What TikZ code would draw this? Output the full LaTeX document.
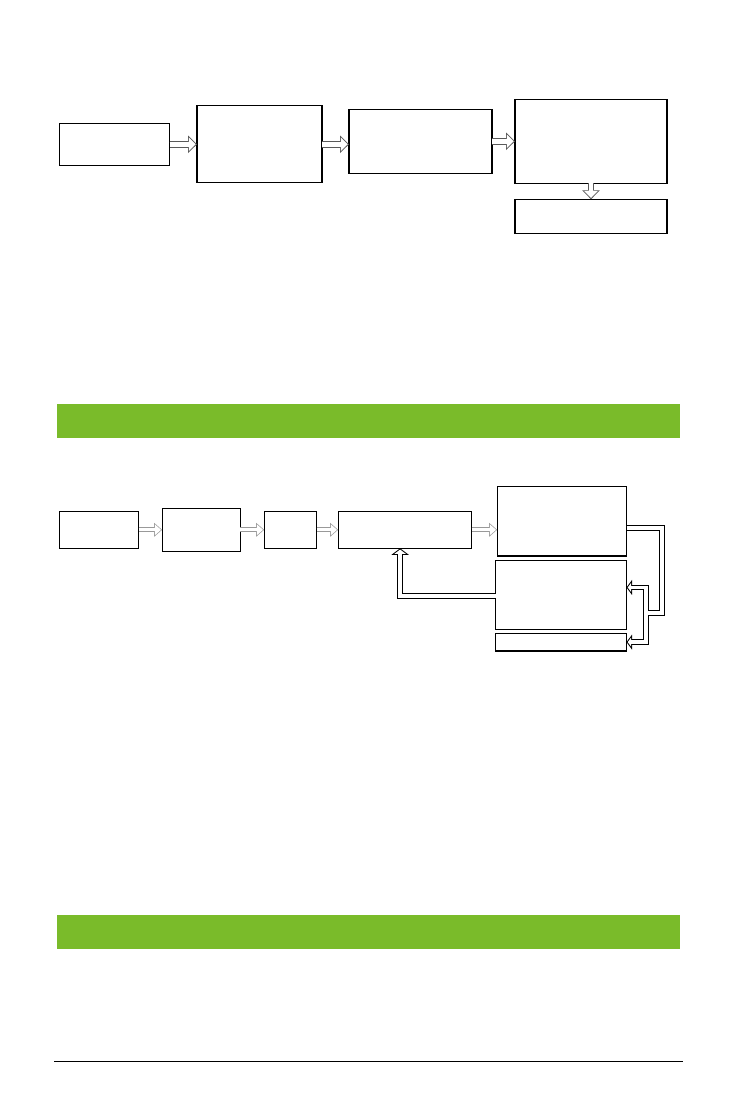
\documentclass[tikz,border=0pt]{standalone}
\usetikzlibrary{positioning, arrows.meta}
\definecolor{verdebarra}{RGB}{122,187,42}
\tikzset{blocco/.style={rectangle, draw, line width=1.1pt, inner sep=0pt, outer sep=0pt},
  % frecce cave: prima il bordo, poi l'interno bianco
  bordo/.style={draw=black!65, line width=6.7pt, -{Triangle[length=9pt, width=17.6pt, line width=0pt]}},
  vuoto/.style={draw=white, line width=4.9pt, shorten >=1.3pt, -{Triangle[length=6.8pt, width=13.3pt, line width=0pt]}},
  bordochiaro/.style={draw=black!40, line width=4.7pt, -{Triangle[length=8pt, width=14pt, line width=0pt]}},
  vuotochiaro/.style={draw=white, line width=3.3pt, shorten >=1.06pt, -{Triangle[length=6.2pt, width=10.9pt, line width=0pt]}},
  ritorno/.style={draw=black, line width=5.8pt, line join=miter, -{Triangle[length=5.5pt, width=15pt, line width=0pt]}},
  ritornovuoto/.style={draw=white, line width=3.8pt, line join=miter, shorten >=1.24pt, -{Triangle[length=3.3pt, width=8.9pt, line width=0pt]}}}

\begin{document}
\begin{tikzpicture}[x=1pt, y=-1pt]
        \useasboundingbox (0,0) rectangle (737,1106);
        % primo schema
        \node[blocco, minimum width=110pt, minimum height=42pt] (sorgente) at (114.5,144.3) {};
        \node[blocco, right=27.5pt of sorgente, minimum width=125pt, minimum height=77pt] (lettura) {};
        \node[blocco, right=27pt of lettura, yshift=3pt, minimum width=143pt, minimum height=64pt] (elabora) {};
        \node[blocco, right=23pt of elabora, minimum width=152pt, minimum height=84pt] (uscita) {};
        \node[blocco, below=16pt of uscita, minimum width=152pt, minimum height=34pt] (archivio) {};
        \foreach \p/\q in {sorgente/lettura, lettura/elabora, elabora/uscita} {
            \draw[bordo] (\p.east) -- (\q.west |- \p.east);
            \draw[vuoto] (\p.east) -- (\q.west |- \p.east);
        }
        \draw[bordo] (uscita.south) -- (archivio.north);
        \draw[vuoto] (uscita.south) -- (archivio.north);

        \fill[verdebarra] (57,404) rectangle (680,437.7);

        % secondo schema
        \node[blocco, minimum width=79pt, minimum height=37pt] (ingresso) at (99,529.8) {};
        \node[blocco, right=23.6pt of ingresso, minimum width=78pt, minimum height=43pt] (filtro) {};
        \node[blocco, right=24pt of filtro, minimum width=52.4pt, minimum height=37pt] (stadio) {};
        \node[blocco, right=21.6pt of stadio, minimum width=133.4pt, minimum height=37pt] (regola) {};
        \node[blocco, right=25.6pt of regola, yshift=8.5pt, minimum width=129.4pt, minimum height=69.3pt] (attua) {};
        \node[blocco, below left=4.7pt and 0pt of attua.south east, minimum width=131pt, minimum height=68.6pt] (misura) {};
        \node[blocco, below left=4pt and 0pt of misura.south east, minimum width=131pt, minimum height=17.7pt] (segnale) {};
        \foreach \p/\q in {ingresso/filtro, filtro/stadio, stadio/regola, regola/attua} {
            \draw[bordochiaro] (\p.east) -- (\q.west |- \p.east);
            \draw[vuotochiaro] (\p.east) -- (\q.west |- \p.east);
        }

        % anelli di ritorno
        \coordinate (angolo) at (661.8,612.8);
        \coordinate (nodo) at (646,612.8);
        \draw[ritorno] ([yshift=-7pt]attua.east) -| (angolo) -- (nodo) |- ([yshift=7.5pt]misura.east);
        \draw[ritorno] (nodo) |- (segnale.east);
        \draw[ritorno, -{Triangle[length=6.5pt, width=17.3pt, line width=0pt]}] ([yshift=-1.3pt]misura.west) -| ([xshift=-4.7pt]regola.south);
        \draw[ritornovuoto] ([yshift=-7pt]attua.east) -| (angolo) -- (nodo) |- ([yshift=7.5pt]misura.east);
        \draw[ritornovuoto] (nodo) |- (segnale.east);
        \draw[ritornovuoto, shorten >=1.25pt, -{Triangle[length=4.25pt, width=11.3pt, line width=0pt]}] ([yshift=-1.3pt]misura.west) -| ([xshift=-4.7pt]regola.south);

        \fill[verdebarra] (57,915) rectangle (680,948.7);
        \draw[line width=0.9pt] (54,1061) -- (683,1061);
\end{tikzpicture}
\end{document}
